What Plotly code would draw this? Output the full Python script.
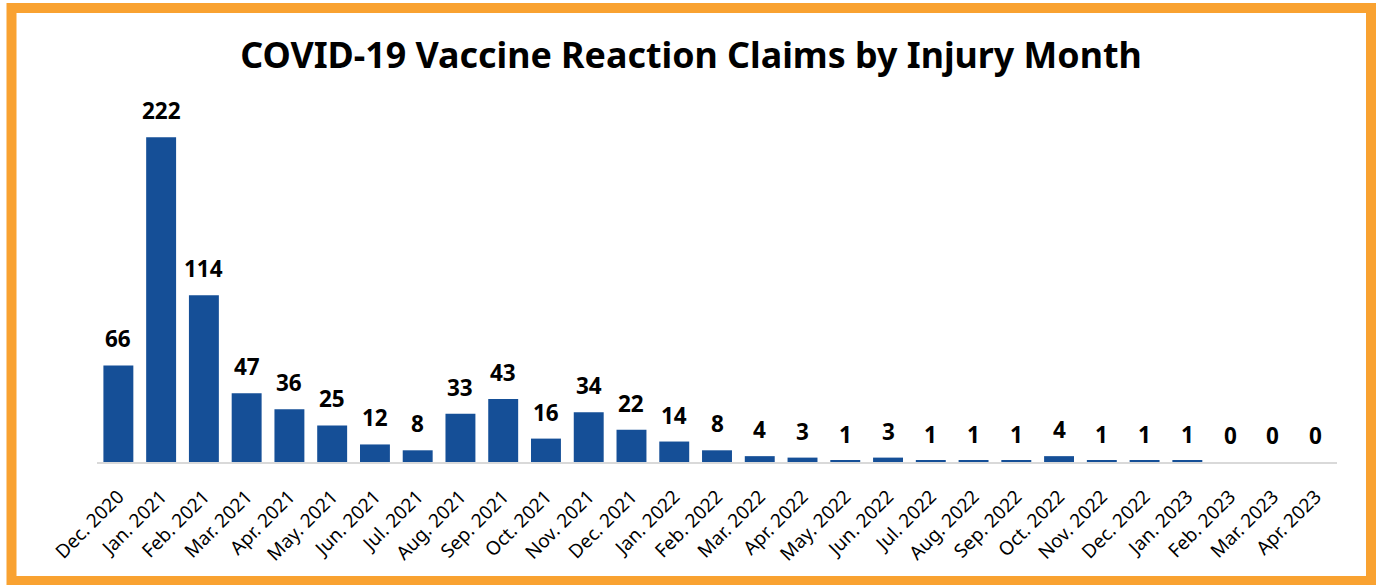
import plotly.graph_objects as go

months = ["Dec. 2020", "Jan. 2021", "Feb. 2021", "Mar. 2021", "Apr. 2021", "May. 2021",
          "Jun. 2021", "Jul. 2021", "Aug. 2021", "Sep. 2021", "Oct. 2021", "Nov. 2021",
          "Dec. 2021", "Jan. 2022", "Feb. 2022", "Mar. 2022", "Apr. 2022", "May. 2022",
          "Jun. 2022", "Jul. 2022", "Aug. 2022", "Sep. 2022", "Oct. 2022", "Nov. 2022",
          "Dec. 2022", "Jan. 2023", "Feb. 2023", "Mar. 2023", "Apr. 2023"]
claims = [66, 222, 114, 47, 36, 25, 12, 8, 33, 43, 16, 34, 22, 14, 8, 4, 3, 1, 3, 1, 1, 1, 4, 1, 1, 1, 0, 0, 0]

W, H = 1376, 585
ML, MR, MT, MB = 97, 39, 111, 123
YMAX = 240
pw, ph = W - ML - MR, H - MT - MB

def px(x):
    return (x - ML) / pw

def py(y):
    return (H - MB - y) / ph

BAR = "#154F97"
ORANGE = "#F9A231"
FONT = "Noto Sans"

fig = go.Figure(go.Bar(
    x=months, y=claims,
    marker=dict(color=BAR, line=dict(width=0)),
    width=0.7,
    hoverinfo="x+y",
))

for m, v in zip(months, claims):
    fig.add_annotation(x=m, y=v, text=f"<b>{v}</b>", showarrow=False,
                       yanchor="bottom", yshift=9,
                       font=dict(family=FONT, size=22.5, color="#000000"))

fig.update_layout(
    width=W, height=H,
    margin=dict(l=ML, r=MR, t=MT, b=MB, autoexpand=False),
    paper_bgcolor="white", plot_bgcolor="white",
    showlegend=False,
    title=dict(text="<b>COVID-19 Vaccine Reaction Claims by Injury Month</b>",
               x=(242 + 1140) / 2 / W, xanchor="center", y=1 - 55 / H, yanchor="middle",
               font=dict(family=FONT, size=35.8, color="#000000")),
    xaxis=dict(tickangle=-45, tickfont=dict(family=FONT, size=19, color="#000000"),
               showline=True, linecolor="#D9D9D9", linewidth=2, showgrid=False,
               ticks="outside", ticklen=14, tickcolor="rgba(0,0,0,0)", automargin=False),
    yaxis=dict(range=[0, YMAX], visible=False, showgrid=False),
    shapes=[dict(type="rect", xref="paper", yref="paper",
                 x0=px(11.5), x1=px(1371), y0=py(581), y1=py(8),
                 line=dict(color=ORANGE, width=10), fillcolor="rgba(0,0,0,0)",
                 layer="above")],
)

fig.write_html("out.html", config={"displayModeBar": False},
               post_script="document.body.style.margin='0';")
